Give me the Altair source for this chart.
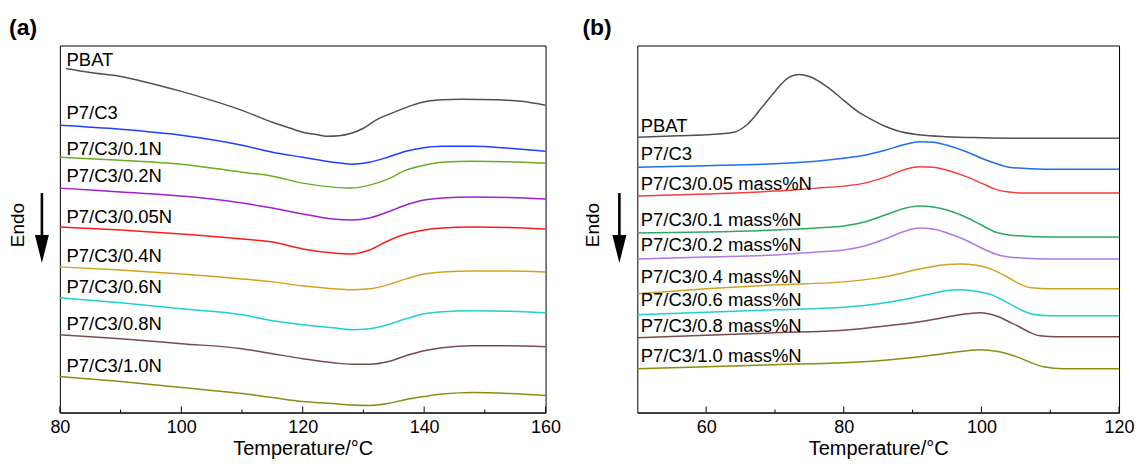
import altair as alt
import pandas as pd

FONT = "Liberation Sans"

# ---------------- Panel (a): heating curves ----------------
series_a = ["PBAT", "P7/C3", "P7/C3/0.1N", "P7/C3/0.2N", "P7/C3/0.05N",
            "P7/C3/0.4N", "P7/C3/0.6N", "P7/C3/0.8N", "P7/C3/1.0N"]
colors_a = ["#505050", "#1f3fff", "#6aab1f", "#a21fd0", "#ff1a1a",
            "#d4a020", "#1fcfd0", "#7b4a4a", "#8c8c14"]

pbat_a_T = [81, 85, 90, 93, 100, 105, 110, 115, 118, 120, 122, 124, 126, 128, 130, 132,
            135, 138, 140.5, 143, 146, 152, 156, 160]
pbat_a_v = [345, 341, 337, 333, 322, 313, 303, 291, 285, 281, 279, 277, 277.5, 280, 285, 293,
            301, 308, 312, 313.5, 314, 313.5, 312, 308]

grid_a_T = [80, 90, 100, 110, 115, 120, 125, 128, 131, 134, 137, 140, 143, 148, 154, 160]
p7c3_a = [288, 284, 278, 268, 261, 256, 251, 249, 251, 256, 262, 265.5, 267, 267, 265, 262]
n01_a = [256, 253, 249, 241, 237, 230, 226, 225, 228, 234, 243, 248, 251, 252, 251.5, 250]
n02_a = [225, 221, 217, 210, 205, 199, 194, 193, 195, 201, 208, 213, 215, 216, 215.5, 214]
n005_a = [186, 183, 179, 174, 171, 164, 160, 159, 163, 172, 179, 183, 185, 186, 185.5, 184]
n04_a = [146, 143, 139, 134, 131, 127, 124, 123, 124, 128, 134, 139, 141, 142, 142, 141]
n06_a = [115, 110, 104, 98, 92, 88, 85, 83, 84, 88, 94, 99, 101, 102, 101.5, 100]
n08_a = [78, 74, 69, 64, 59, 54, 50, 48.5, 48.5, 51, 57, 62, 65, 67, 67, 66]
n10_a = [36, 31, 25, 19, 15, 11, 9, 7.5, 7, 9, 13, 16, 18.5, 20, 19, 17]

label_a_T = 81.1
label_a_v = [347, 294, 258, 231, 190, 151, 120, 83, 41]

ticks_major_a = [80, 100, 120, 140, 160]
ticks_minor_a = [90, 110, 130, 150]

# ---------------- Panel (b): cooling curves ----------------
series_b = ["PBAT", "P7/C3", "P7/C3/0.05 mass%N", "P7/C3/0.1 mass%N", "P7/C3/0.2 mass%N",
            "P7/C3/0.4 mass%N", "P7/C3/0.6 mass%N", "P7/C3/0.8 mass%N", "P7/C3/1.0 mass%N"]
colors_b = ["#505050", "#1f6fe8", "#f53c3c", "#2ea860", "#b077e8",
            "#d4a020", "#1fcfd0", "#7b4a4a", "#8c8c14"]

pbat_b_T = [50, 56, 60, 64, 66, 68, 70, 72, 73.5, 75, 77.5, 80, 82, 84, 86, 88, 91, 95,
            100, 105, 110, 120]
pbat_b_v = [276, 277.5, 278.5, 281, 289, 305, 322, 336, 339, 337, 327, 313, 302, 294, 287,
            282, 278.5, 276.5, 275.5, 275, 275, 275]

grid_b_T = [50, 60, 70, 76, 80, 83, 86, 89, 91, 93, 95, 98, 100, 102, 104, 106, 110, 120]
p7c3_b = [246, 247.5, 249.5, 252, 255, 258, 263, 269, 271.5, 271, 268, 261, 255, 250, 246,
          245, 244, 244]
n005_b = [217, 219, 222, 225, 227, 230, 236, 244, 246.5, 246, 243, 236, 230, 224, 221,
          220, 220, 220]
n01_b = [180, 181, 183, 185, 187, 191, 198, 205, 207, 206, 203, 195, 188, 181, 178, 177,
         176, 176]
n02_b = [154, 156, 158, 161, 163, 167, 174, 182, 185, 184, 180, 172, 165, 159, 156, 155,
         154, 154]

n04_b_T = [50, 60, 70, 80, 85, 88.6, 91, 93.4, 95, 97, 99, 100.5, 102, 104, 105.5, 107.3,
           110, 120]
n04_b = [119, 124, 128, 131, 135, 140, 144, 147, 148.5, 149, 148, 146, 142, 135, 129, 125,
         124, 124]
n06_b_T = [50, 60, 70, 80, 85, 88.6, 92, 94.8, 97, 98.7, 100, 101.5, 103, 104.4, 106, 107.5,
           110, 120]
n06_b = [98, 100.5, 103, 105.5, 109, 113, 118, 122, 123, 122, 120.5, 118, 113, 108, 102,
         98.5, 97, 97]
n08_b_T = [50, 60, 70, 80, 85, 91, 94, 96, 98, 99.7, 101, 102.5, 104, 105.5, 107, 108.5,
           111, 120]
n08_b = [75, 77.5, 80, 82.5, 86, 91, 94.5, 97, 99, 100, 99, 96, 91, 86, 80.5, 77, 76, 76]
n10_b_T = [50, 60, 70, 80, 85, 91, 94, 96, 98, 99.7, 101, 102.6, 104, 105.5, 107, 109, 112,
           120]
n10_b = [44, 46, 48, 50, 52, 56, 58.5, 60.5, 62, 63, 62.5, 61, 58.5, 55, 50.5, 46, 44, 44]

label_b_T = 50.5
label_b_v = [281, 253, 223, 187, 162, 130, 107, 81, 51]

ticks_major_b = [60, 80, 100, 120]
ticks_minor_b = [70, 90, 110]

# ---------------- build tables ----------------
def long_table(names, Ts, vs):
    rows = []
    for n, T, v in zip(names, Ts, vs):
        for t, y in zip(T, v):
            rows.append({"s": n, "T": t, "v": y})
    return pd.DataFrame(rows)

df_a = long_table(series_a,
                  [pbat_a_T] + [grid_a_T] * 8,
                  [pbat_a_v, p7c3_a, n01_a, n02_a, n005_a, n04_a, n06_a, n08_a, n10_a])
df_b = long_table(series_b,
                  [pbat_b_T] + [grid_b_T] * 4 + [n04_b_T, n06_b_T, n08_b_T, n10_b_T],
                  [pbat_b_v, p7c3_b, n005_b, n01_b, n02_b, n04_b, n06_b, n08_b, n10_b])

lab_a = pd.DataFrame({"s": series_a, "T": [label_a_T] * len(series_a), "v": label_a_v})
lab_b = pd.DataFrame({"s": series_b, "T": [label_b_T] * len(series_b), "v": label_b_v})

H = 368
one = alt.Data(values=[{"k": 1}])


def panel(df, labs, names, colors, xdom, major, minor, letter, letter_x, endo_x, W):
    xscale = alt.Scale(domain=xdom, nice=False, zero=False)
    yscale = alt.Scale(domain=[0, H], nice=False, zero=False)
    xaxis = alt.Axis(values=major, ticks=False, tickSize=0, domain=True, domainColor="black",
                     domainWidth=1, grid=False, labelFontSize=18, labelFont=FONT,
                     labelColor="black", labelPadding=6, labelFlush=False, format="d",
                     title="Temperature/°C", titleFont=FONT, titleFontSize=20,
                     titleFontWeight="normal", titleColor="black", titlePadding=2)
    lines = alt.Chart(df).mark_line(strokeWidth=1.5, interpolate="monotone").encode(
        x=alt.X("T:Q", scale=xscale, axis=xaxis),
        y=alt.Y("v:Q", scale=yscale, axis=None),
        color=alt.Color("s:N", scale=alt.Scale(domain=names, range=colors), legend=None),
    )
    labels = alt.Chart(labs).mark_text(align="left", baseline="alphabetic", fontSize=18.5,
                                       font=FONT, color="black").encode(
        x="T:Q", y="v:Q", text="s:N")
    tmaj = alt.Chart(pd.DataFrame({"t": major})).mark_rule(color="black", strokeWidth=1).encode(
        x="t:Q", y=alt.value(H), y2=alt.value(H - 6))
    tmin = alt.Chart(pd.DataFrame({"t": minor})).mark_rule(color="black", strokeWidth=1).encode(
        x="t:Q", y=alt.value(H), y2=alt.value(H - 3))
    arrow = alt.Chart(one).mark_rule(color="black", strokeWidth=2.6).encode(
        x=alt.value(-18), y=alt.value(148), y2=alt.value(196))
    head = alt.Chart(one).mark_point(shape="M-0.5,-1L0.5,-1L0,1Z", filled=True, size=784,
                                     color="black", opacity=1, strokeWidth=0).encode(
        x=alt.value(-18), y=alt.value(204))
    endo = alt.Chart(one).mark_text(angle=270, fontSize=19, font=FONT, color="black",
                                    align="center", baseline="middle").encode(
        x=alt.value(endo_x), y=alt.value(180), text=alt.value("Endo"))
    plab = alt.Chart(one).mark_text(fontSize=23, font=FONT, fontWeight="bold", color="black",
                                    align="left", baseline="alphabetic").encode(
        x=alt.value(letter_x), y=alt.value(-11), text=alt.value(letter))
    return alt.layer(lines, tmaj, tmin, labels, arrow, head, endo, plab).properties(
        width=W, height=H)


pa = panel(df_a, lab_a, series_a, colors_a, [80, 160], ticks_major_a, ticks_minor_a,
           "(a)", -51, -42, 487)
pb = panel(df_b, lab_b, series_b, colors_b, [50, 120], ticks_major_b, ticks_minor_b,
           "(b)", -55, -44, 483)

chart = alt.hconcat(pa, pb, spacing=20).resolve_scale(color="independent").properties(
    padding={"left": 0, "top": 7, "right": 0, "bottom": 0}
).configure_view(stroke="black", strokeWidth=1)

chart.save("out.html", embed_options={"renderer": "svg", "actions": False})
